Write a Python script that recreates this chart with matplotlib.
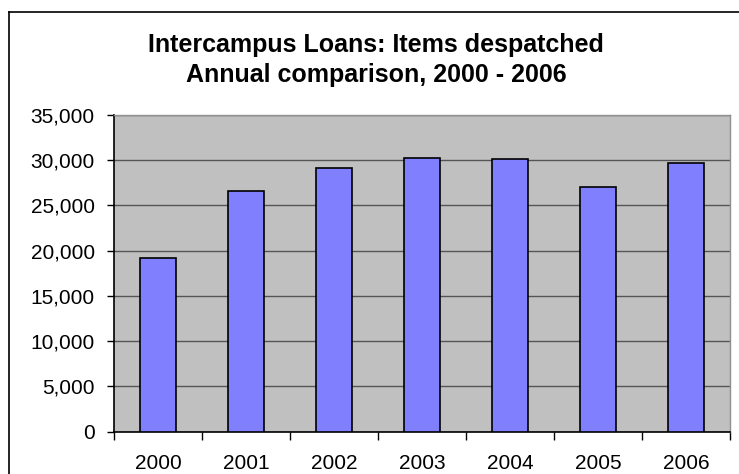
import numpy as np
import matplotlib
matplotlib.use('Agg')
import matplotlib.pyplot as plt
from matplotlib.lines import Line2D
from matplotlib.ticker import FuncFormatter

# data
years = ['2000', '2001', '2002', '2003', '2004', '2005', '2006']
items = [19250, 26650, 29150, 30300, 30150, 27050, 29750]
y_ticks = [0, 5000, 10000, 15000, 20000, 25000, 30000, 35000]
title_lines = ['Intercampus Loans: Items despatched', 'Annual comparison, 2000 - 2006']

plt.rcParams['font.family'] = ['Liberation Sans', 'DejaVu Sans']

W, H = 739, 474
fig = plt.figure(figsize=(W / 100, H / 100), dpi=100)

# plot area (pixel box)
left, right, top, bottom = 114.3, 730, 115, 431.7
ax = fig.add_axes([left / W, 1 - bottom / H, (right - left) / W, (bottom - top) / H])
ax.set_facecolor('#c0c0c0')

x = np.arange(len(years))
ax.bar(x, items, width=0.41, color='#8080ff', edgecolor='black', linewidth=1.2, zorder=3)

ax.set_xlim(-0.5, len(years) - 0.5)
ax.set_ylim(0, 35000)
ax.set_yticks(y_ticks)
ax.yaxis.set_major_formatter(FuncFormatter(lambda v, p: '{:,.0f}'.format(v)))
ax.yaxis.grid(True, color='#555555', linewidth=1.0, zorder=1)
ax.set_axisbelow(True)

# category labels between boundary ticks
ax.set_xticks(x)
ax.set_xticklabels(years, fontsize=15)
ax.tick_params(axis='x', length=0, pad=16)
ax.set_xticks(np.arange(-0.5, len(years)), minor=True)
ax.tick_params(axis='x', which='minor', length=6, width=1, color='black', direction='out')
ax.tick_params(axis='y', length=5, width=1, labelsize=15, pad=9, direction='out')

for s in ['left', 'bottom']:
    ax.spines[s].set_color('black')
    ax.spines[s].set_linewidth(1.2)
for s in ['top', 'right']:
    ax.spines[s].set_color('#909090')
    ax.spines[s].set_linewidth(1.0)

# title
fig.text(376 / W, 1 - 52 / H, title_lines[0], ha='center', va='baseline',
         fontsize=18, fontweight='bold')
fig.text(376 / W, 1 - 82 / H, title_lines[1], ha='center', va='baseline',
         fontsize=18, fontweight='bold')

# chart border (clipped at right and bottom)
fig.add_artist(Line2D([9 / W, 1.01], [1 - 12 / H, 1 - 12 / H], color='black', linewidth=1.2,
                      transform=fig.transFigure))
fig.add_artist(Line2D([9 / W, 9 / W], [1 - 12 / H, -0.01], color='black', linewidth=1.2,
                      transform=fig.transFigure))

fig.savefig('out.png', dpi=100)
